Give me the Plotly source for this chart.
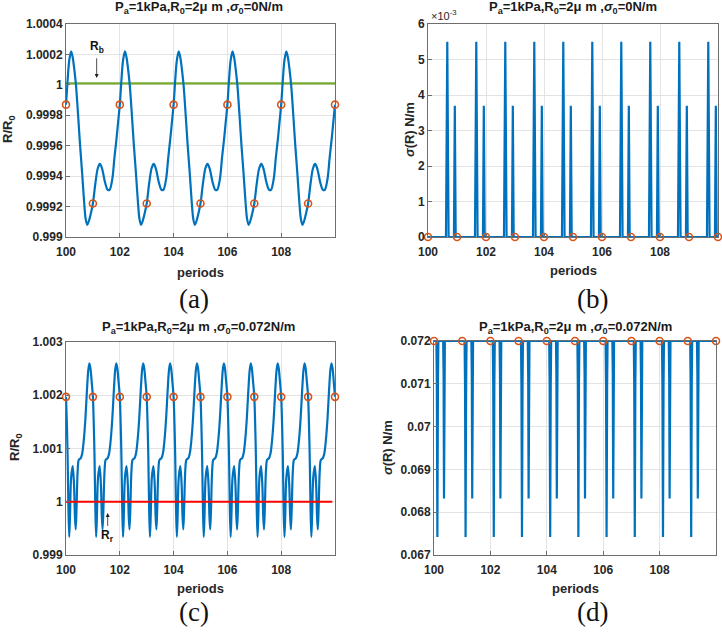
import plotly.graph_objects as go

# ---------------- data ----------------
# (a) R/R0 with sigma0 = 0 N/m : one repeating cycle (2 periods long)
a_phase = [0.00, 0.06, 0.12, 0.19, 0.25, 0.31, 0.37, 0.45, 0.52, 0.60, 0.67, 0.73,
           0.79, 0.86, 0.93, 1.00, 1.09, 1.18, 1.26, 1.34, 1.45, 1.55, 1.62, 1.72,
           1.80, 1.88, 1.94]
a_ratio = [0.99987, 1.00003, 1.00016, 1.00022, 1.00018, 1.00010, 1.00000, 0.99980,
           0.99961, 0.99942, 0.99924, 0.99912, 0.99908, 0.99911, 0.99916, 0.99922,
           0.99935, 0.99945, 0.99948, 0.99945, 0.99936, 0.99931, 0.99931, 0.99938,
           0.99952, 0.99965, 0.99976]
a_cycle_starts = [100, 102, 104, 106, 108]
a_end = (110, 0.99987)
a_mark_x = [100, 101, 102, 103, 104, 105, 106, 107, 108, 109, 110]
a_mark_y = [0.99987, 0.99922, 0.99987, 0.99922, 0.99987, 0.99922, 0.99987,
            0.99922, 0.99987, 0.99922, 0.99987]
a_Rb = 1.00001

# (b) sigma(R) with sigma0 = 0 N/m : one repeating cycle (1 period long)
b_phase = [0.00, 0.62, 0.665, 0.71, 0.895, 0.925, 0.955]
b_sigma = [0.0, 0.0, 0.0055, 0.0, 0.0, 0.0037, 0.0]
b_cycle_starts = [100, 101, 102, 103, 104, 105, 106, 107, 108, 109]
b_end = (110, 0.0)
b_mark_x = [100, 101, 102, 103, 104, 105, 106, 107, 108, 109, 110]
b_mark_y = [0.0] * 11

# (c) R/R0 with sigma0 = 0.072 N/m : one repeating cycle (1 period long)
c_phase = [0.00, 0.03, 0.06, 0.09, 0.12, 0.15, 0.19, 0.25, 0.30, 0.33, 0.36, 0.39,
           0.43, 0.47, 0.50, 0.55, 0.60, 0.66, 0.72, 0.78, 0.83, 0.87, 0.91, 0.95]
c_ratio = [1.00197, 1.00150, 1.00085, 0.99990, 0.99934, 0.99975, 1.00045, 1.00067,
           1.00030, 0.99975, 0.99948, 0.99985, 1.00055, 1.00078, 1.00080, 1.00082,
           1.00090, 1.00115, 1.00155, 1.00210, 1.00248, 1.00260, 1.00250, 1.00228]
c_cycle_starts = [100, 101, 102, 103, 104, 105, 106, 107, 108, 109]
c_end = (110, 1.00197)
c_mark_x = [100, 101, 102, 103, 104, 105, 106, 107, 108, 109, 110]
c_mark_y = [1.00197] * 11
c_Rr = 1.0
c_Rr_span = (100, 109.9)

# (d) sigma(R) with sigma0 = 0.072 N/m : one repeating cycle (1 period long)
d_phase = [0.00, 0.085, 0.10, 0.12, 0.14, 0.155, 0.325, 0.34, 0.355, 0.37, 0.385]
d_sigma = [0.072, 0.072, 0.0710, 0.06742, 0.0710, 0.072, 0.072, 0.0712, 0.06832,
           0.0712, 0.072]
d_cycle_starts = [100, 101, 102, 103, 104, 105, 106, 107, 108, 109]
d_end = (110, 0.072)
d_mark_x = [100, 101, 102, 103, 104, 105, 106, 107, 108, 109, 110]
d_mark_y = [0.072] * 11

x_ticks = [100, 102, 104, 106, 108]
a_yticks = [0.999, 0.9992, 0.9994, 0.9996, 0.9998, 1.0, 1.0002, 1.0004]
a_yticktext = ["0.999", "0.9992", "0.9994", "0.9996", "0.9998", "1", "1.0002", "1.0004"]
b_yticks = [0, 0.001, 0.002, 0.003, 0.004, 0.005, 0.006]
b_yticktext = ["0", "1", "2", "3", "4", "5", "6"]
c_yticks = [0.999, 1.0, 1.001, 1.002, 1.003]
c_yticktext = ["0.999", "1", "1.001", "1.002", "1.003"]
d_yticks = [0.067, 0.068, 0.069, 0.07, 0.071, 0.072]
d_yticktext = ["0.067", "0.068", "0.069", "0.07", "0.071", "0.072"]

title_top = "<b>P<sub>a</sub>=1kPa,R<sub>0</sub>=2μ m ,<i>σ</i><sub>0</sub>=0N/m</b>"
title_bot = "<b>P<sub>a</sub>=1kPa,R<sub>0</sub>=2μ m ,<i>σ</i><sub>0</sub>=0.072N/m</b>"


def tile(phase, vals, starts, end):
    xs, ys = [], []
    for s in starts:
        xs += [s + p for p in phase]
        ys += list(vals)
    xs.append(end[0])
    ys.append(end[1])
    return xs, ys


# ---------------- figure ----------------
W, H = 722, 632
BLUE = "#0072BD"
ORANGE = "#D95319"
FONT = "Liberation Sans, Arial, sans-serif"
SERIF = "Liberation Serif, Times New Roman, serif"

fig = go.Figure()

panels = [
    ("a", "x", "y", tile(a_phase, a_ratio, a_cycle_starts, a_end), (a_mark_x, a_mark_y), True),
    ("b", "x2", "y2", tile(b_phase, b_sigma, b_cycle_starts, b_end), (b_mark_x, b_mark_y), False),
    ("c", "x3", "y3", tile(c_phase, c_ratio, c_cycle_starts, c_end), (c_mark_x, c_mark_y), True),
    ("d", "x4", "y4", tile(d_phase, d_sigma, d_cycle_starts, d_end), (d_mark_x, d_mark_y), False),
]

for name, xa, ya, (cx, cy), (mx, my), spl in panels:
    if name == "a":
        fig.add_trace(go.Scatter(x=[100, 110], y=[a_Rb, a_Rb], mode="lines",
                                 line=dict(color="#77AC30", width=2.2),
                                 xaxis=xa, yaxis=ya, showlegend=False))
    line = dict(color=BLUE, width=2.2, shape="spline" if spl else "linear")
    if spl:
        line["smoothing"] = 0.9
    fig.add_trace(go.Scatter(x=cx, y=cy, mode="lines", line=line,
                             xaxis=xa, yaxis=ya, showlegend=False))
    if name == "c":
        fig.add_trace(go.Scatter(x=list(c_Rr_span), y=[c_Rr, c_Rr], mode="lines",
                                 line=dict(color="#FF0000", width=2.2),
                                 xaxis=xa, yaxis=ya, showlegend=False))
    fig.add_trace(go.Scatter(x=mx, y=my, mode="markers",
                             marker=dict(symbol="circle-open", size=7, color=ORANGE,
                                         line=dict(width=1.6, color=ORANGE)),
                             xaxis=xa, yaxis=ya, showlegend=False, cliponaxis=False))


def px_x(p):
    return p / W


def px_y(p):
    return 1 - p / H


TICKFONT = dict(family=FONT, size=12, color="#262626", weight="bold")


def xaxis(l, r, anchor):
    return dict(domain=[px_x(l), px_x(r)], range=[100, 110], anchor=anchor,
                tickvals=x_ticks, ticktext=[str(t) for t in x_ticks],
                showline=True, mirror=True, linecolor="#6e6e6e", linewidth=1,
                ticks="inside", ticklen=4, tickcolor="#6e6e6e",
                showgrid=True, gridcolor="#e3e3e3", gridwidth=1, zeroline=False,
                tickfont=TICKFONT, ticklabelstandoff=4, automargin=False)


def yaxis(t, b, anchor, rng, tv, tt):
    return dict(domain=[px_y(b), px_y(t)], range=rng, anchor=anchor,
                tickvals=tv, ticktext=tt,
                showline=True, mirror=True, linecolor="#6e6e6e", linewidth=1,
                ticks="inside", ticklen=4, tickcolor="#6e6e6e",
                showgrid=True, gridcolor="#e3e3e3", gridwidth=1, zeroline=False,
                tickfont=TICKFONT, automargin=False)


fig.update_layout(
    width=W, height=H, autosize=False,
    margin=dict(l=0, r=0, t=0, b=0, pad=0, autoexpand=False),
    paper_bgcolor="white", plot_bgcolor="white", showlegend=False,
    xaxis=xaxis(66, 335, "y"),
    yaxis=yaxis(24, 237, "x", [0.999, 1.0004], a_yticks, a_yticktext),
    xaxis2=xaxis(428, 718, "y2"),
    yaxis2=yaxis(24, 237, "x2", [0, 0.006], b_yticks, b_yticktext),
    xaxis3=xaxis(66, 335, "y3"),
    yaxis3=yaxis(342, 555, "x3", [0.999, 1.003], c_yticks, c_yticktext),
    xaxis4=xaxis(434, 716, "y4"),
    yaxis4=yaxis(341, 555, "x4", [0.067, 0.072], d_yticks, d_yticktext),
)

ann = []


def text_at(x, y, s, size=13, angle=0, family=FONT, color="#1a1a1a", xanchor="center"):
    ann.append(dict(x=px_x(x), y=px_y(y), xref="paper", yref="paper", text=s,
                    showarrow=False, textangle=angle, xanchor=xanchor, yanchor="middle",
                    font=dict(family=family, size=size, color=color)))


# titles
text_at(199, 8, title_top)
text_at(573, 8, title_top)
text_at(199, 327, title_bot)
text_at(575, 327, title_bot)
# x labels
for x, y in [(200, 272), (573, 270), (200, 588), (575, 588)]:
    text_at(x, y, "<b>periods</b>", size=13, color="#262626")
# y labels
text_at(8, 130, "<b>R/R<sub>0</sub></b>", size=13, angle=-90, color="#262626")
text_at(409, 130, "<b><i>σ</i>(R) N/m</b>", size=13, angle=-90, color="#262626")
text_at(15, 448, "<b>R/R<sub>0</sub></b>", size=13, angle=-90, color="#262626")
text_at(387, 448, "<b><i>σ</i>(R) N/m</b>", size=13, angle=-90, color="#262626")
# exponent
text_at(429, 15, "×10<sup>-3</sup>", size=11, color="#262626", xanchor="left")
# panel letters
text_at(194, 299, "(a)", size=27, family=SERIF, color="#111")
text_at(592, 299, "(b)", size=27, family=SERIF, color="#111")
text_at(194, 612, "(c)", size=27, family=SERIF, color="#111")
text_at(592, 612, "(d)", size=27, family=SERIF, color="#111")

# labelled arrows (label sits at the arrow tail)
ann.append(dict(x=101.14, y=1.000045, ax=101.14, ay=1.00025, xref="x", yref="y",
                axref="x", ayref="y", showarrow=True, arrowhead=2, arrowsize=1,
                arrowwidth=0.8, arrowcolor="#222", standoff=0, startstandoff=2,
                text="<b>R<sub>b</sub></b>", font=dict(family=FONT, size=12, color="#111")))
ann.append(dict(x=101.55, y=0.99979, ax=101.55, ay=0.99935, xref="x3", yref="y3",
                axref="x3", ayref="y3", showarrow=True, arrowhead=2, arrowsize=1,
                arrowwidth=0.8, arrowcolor="#222", standoff=0, startstandoff=1,
                text="<b>R<sub>r</sub></b>", font=dict(family=FONT, size=12, color="#111")))

fig.update_layout(annotations=ann)
fig.write_html("out.html", config={"displayModeBar": False},
               post_script="document.body.style.margin='0';document.body.style.overflow='hidden';")
